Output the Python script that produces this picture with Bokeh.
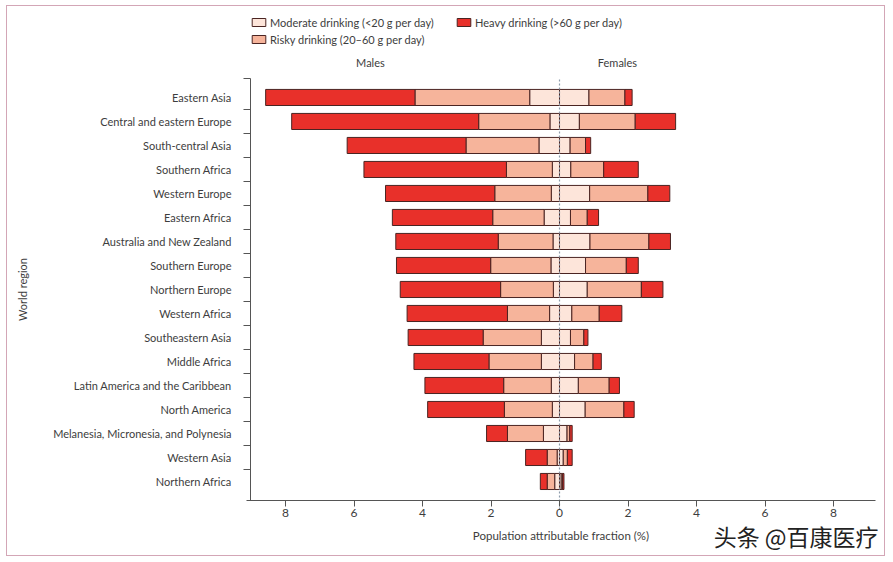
from bokeh.plotting import figure
from bokeh.models import ColumnDataSource, FixedTicker, Label, Legend, LegendItem
from bokeh.embed import file_html
from bokeh.resources import INLINE

regions = ["Eastern Asia", "Central and eastern Europe", "South-central Asia", "Southern Africa",
           "Western Europe", "Eastern Africa", "Australia and New Zealand", "Southern Europe",
           "Northern Europe", "Western Africa", "Southeastern Asia", "Middle Africa",
           "Latin America and the Caribbean", "North America",
           "Melanesia, Micronesia, and Polynesia", "Western Asia", "Northern Africa"]
male_moderate = [0.87, 0.28, 0.60, 0.21, 0.24, 0.45, 0.19, 0.25, 0.18, 0.29, 0.53, 0.53, 0.24, 0.21, 0.47, 0.07, 0.14]
male_risky = [3.35, 2.08, 2.13, 1.34, 1.65, 1.50, 1.60, 1.76, 1.54, 1.23, 1.70, 1.53, 1.39, 1.40, 1.05, 0.29, 0.22]
male_heavy = [4.36, 5.46, 3.47, 4.16, 3.19, 2.93, 2.99, 2.75, 2.93, 2.93, 2.19, 2.19, 2.30, 2.24, 0.61, 0.63, 0.20]
female_moderate = [0.86, 0.58, 0.31, 0.33, 0.88, 0.32, 0.89, 0.76, 0.81, 0.36, 0.32, 0.44, 0.55, 0.75, 0.22, 0.11, 0.05]
female_risky = [1.05, 1.63, 0.45, 0.96, 1.70, 0.49, 1.72, 1.19, 1.58, 0.80, 0.39, 0.54, 0.90, 1.13, 0.08, 0.12, 0.04]
female_heavy = [0.21, 1.18, 0.15, 1.01, 0.64, 0.33, 0.63, 0.35, 0.63, 0.66, 0.12, 0.24, 0.30, 0.30, 0.07, 0.14, 0.04]
x_ticks = [-8, -6, -4, -2, 0, 2, 4, 6, 8]

FONT = "Lato"
TXT = "#3d3d3d"
C_MOD = "#fde5da"
C_RISK = "#f6b49b"
C_HEAVY = "#e8302a"
OUTLINE = "#4a2422"
AX = "#555555"

n = len(regions)
ypos = [n - 1 - i for i in range(n)]

# axis extents (data units)
X_LO, X_HI = -9.02, 9.23
Y_LO, Y_HI = -0.79, 16.79

p = figure(width=879, height=551, x_range=(-16.117, 9.547), y_range=(-3.167, 19.79),
           output_backend="svg", toolbar_location=None, min_border=0)
p.styles = {"border": "1px solid #d3a6b6", "margin-left": "6px", "margin-top": "5px"}
p.outline_line_color = None
p.grid.visible = False
p.background_fill_color = "white"
p.border_fill_color = "white"

def seg(starts, widths, sign):
    left, right = [], []
    for s, w in zip(starts, widths):
        a, b = sign * s, sign * (s + w)
        left.append(min(a, b)); right.append(max(a, b))
    return left, right

zeros = [0.0] * n
m1 = male_moderate
m2 = [a + b for a, b in zip(male_moderate, male_risky)]
f1 = female_moderate
f2 = [a + b for a, b in zip(female_moderate, female_risky)]

renders = {}
for sex, sign, parts in [("m", -1, [(zeros, male_moderate, C_MOD), (m1, male_risky, C_RISK), (m2, male_heavy, C_HEAVY)]),
                         ("f", 1, [(zeros, female_moderate, C_MOD), (f1, female_risky, C_RISK), (f2, female_heavy, C_HEAVY)])]:
    for k, (st, w, col) in enumerate(parts):
        l, r = seg(st, w, sign)
        src = ColumnDataSource(dict(y=ypos, left=l, right=r))
        renders[(sex, k)] = p.hbar(y="y", left="left", right="right", height=0.67, source=src,
                                   fill_color=col, line_color=OUTLINE, line_width=1)

# dashed zero line
p.segment(x0=[0], y0=[Y_LO - 0.38], x1=[0], y1=[Y_HI], line_color="#8d9cab", line_dash="2 2", line_width=1.2)

# axes
xa = p.xaxis[0]
xa.fixed_location = Y_LO
xa.bounds = (-9.15, X_HI)
xa.ticker = FixedTicker(ticks=x_ticks)
xa.major_label_overrides = {t: str(abs(t)) for t in x_ticks}
xa.minor_tick_line_color = None
xa.major_tick_in = 0
xa.major_tick_out = 6
xa.major_label_standoff = 3
xa.axis_label = "Population attributable fraction (%)"
xa.axis_label_standoff = 8
xa.axis_label_text_font = FONT
xa.axis_label_text_font_size = "11.5px"
xa.axis_label_text_font_style = "normal"
xa.axis_label_text_color = TXT
xa.major_label_text_font = FONT
xa.major_label_text_font_size = "12px"
xa.major_label_text_color = TXT
xa.axis_line_color = AX
xa.major_tick_line_color = AX

ya = p.yaxis[0]
ya.fixed_location = X_LO
ya.bounds = (Y_LO, Y_HI)
ya.ticker = FixedTicker(ticks=ypos, minor_ticks=[i + 0.5 for i in range(n - 1)] + [16.78])
ya.major_label_overrides = {y: r for y, r in zip(ypos, regions)}
ya.major_tick_in = 0
ya.major_tick_out = 0
ya.minor_tick_in = 0
ya.minor_tick_out = 7
ya.major_label_standoff = 12
ya.axis_label = "World region"
ya.axis_label_standoff = 21
ya.axis_label_text_font = FONT
ya.axis_label_text_font_size = "11px"
ya.axis_label_text_font_style = "normal"
ya.axis_label_text_color = TXT
ya.major_label_text_font = FONT
ya.major_label_text_font_size = "11px"
ya.major_label_text_color = TXT
ya.axis_line_color = AX
ya.minor_tick_line_color = AX

for txt, x in [("Males", -5.52), ("Females", 1.69)]:
    p.add_layout(Label(x=x, y=17.46, text=txt, text_align="center", text_baseline="middle",
                       text_font=FONT, text_font_size="11px", text_color=TXT))

p.add_layout(Label(x=4.5, y=-2.29, text="头条 @百康医疗", text_align="left", text_baseline="middle",
                   text_font="Noto Sans CJK SC", text_font_size="23px", text_color="#222222"))

legend = Legend(items=[
    LegendItem(label="Moderate drinking (<20 g per day)", renderers=[renders[("m", 0)]]),
    LegendItem(label="Risky drinking (20\u201360 g per day)", renderers=[renders[("m", 1)]]),
    LegendItem(label="Heavy drinking (>60 g per day)", renderers=[renders[("m", 2)]]),
], nrows=2, location=(243, 511))
legend.padding = 0
legend.margin = 0
legend.border_line_color = None
legend.background_fill_alpha = 0
legend.glyph_width = 17
legend.glyph_height = 10
legend.label_height = 14
legend.label_width = 182
legend.spacing = 3
legend.label_standoff = 3
legend.label_text_font = FONT
legend.label_text_font_size = "11px"
legend.label_text_color = TXT
p.add_layout(legend, "center")

open("out.html", "w").write(file_html(p, INLINE))
